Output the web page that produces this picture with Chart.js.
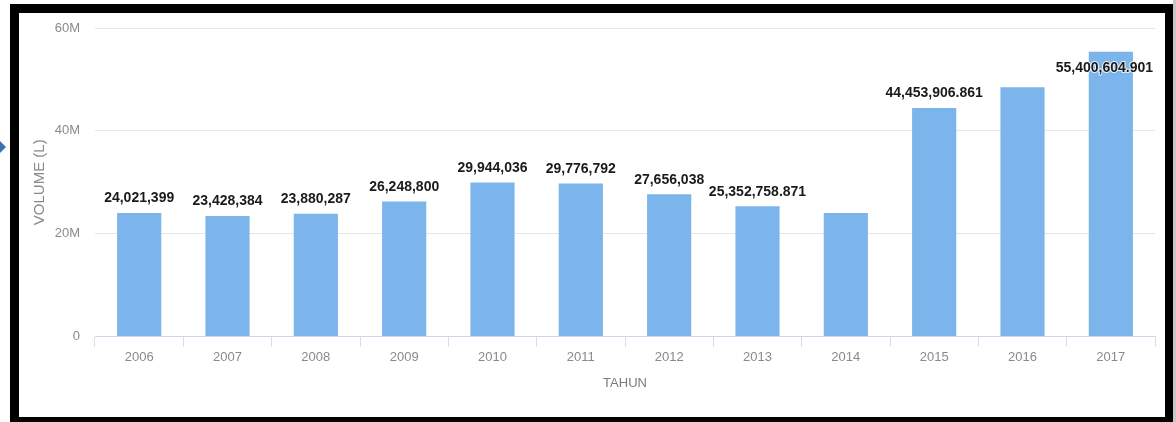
<!DOCTYPE html>
<html>
<head>
<meta charset="utf-8">
<script src="https://cdn.jsdelivr.net/npm/chart.js@4/dist/chart.umd.min.js"></script>
<style>
  html, body { margin: 0; padding: 0; background: #ffffff; overflow: hidden; }
  #wrap { position: relative; width: 1176px; height: 422px; overflow: hidden; }
  #c { position: absolute; left: 0; top: 0; }
  #frame { position: absolute; left: 10px; top: 4px; width: 1163px; height: 422px;
           border: 9px solid #000; border-right-width: 8px; box-sizing: border-box; pointer-events: none; }
  #strip { position: absolute; left: 1173px; top: 0; width: 3px; height: 422px; background: #c8c8c8; }
  #arrow { position: absolute; left: 0; top: 141px; width: 0; height: 0;
           border-top: 6px solid transparent; border-bottom: 6px solid transparent; border-left: 6px solid #3a72b0; }
</style>
</head>
<body>
<div id="wrap">
  <canvas id="c" width="1176" height="422"></canvas>
  <div id="strip"></div>
  <div id="frame"></div>
  <div id="arrow"></div>
</div>
<script>
// ---- data ----
const years = ['2006','2007','2008','2009','2010','2011','2012','2013','2014','2015','2016','2017'];
const volumes = [24021399, 23428384, 23880287, 26248800, 29944036, 29776792, 27656038, 25352758.871, 24000000, 44453906.861, 48500000, 55400604.901];
const valueLabels = ['24,021,399','23,428,384','23,880,287','26,248,800','29,944,036','29,776,792','27,656,038','25,352,758.871','','44,453,906.861','','55,400,604.901'];
const yTickLabels = ['0','20M','40M','60M'];

const FONT = '"Liberation Sans", Arial, sans-serif';

const dataLabelPlugin = {
  id: 'dataLabels',
  afterDatasetsDraw(chart) {
    const ctx = chart.ctx;
    const meta = chart.getDatasetMeta(0);
    const area = chart.chartArea;
    ctx.save();
    ctx.font = 'bold 14px ' + FONT;
    ctx.textAlign = 'center';
    ctx.textBaseline = 'middle';
    meta.data.forEach((el, i) => {
      const text = valueLabels[i];
      if (!text) return;
      const w = ctx.measureText(text).width;
      let x = el.x;
      let y = el.y - 14.5;
      if (y - 13 < area.top) y = el.y + 16;
      if (x + w / 2 + 2 > area.right) x = area.right - w / 2 - 2;
      ctx.lineWidth = 2;
      ctx.strokeStyle = 'rgba(255,255,255,0.8)';
      ctx.lineJoin = 'round';
      ctx.strokeText(text, x, y);
      ctx.fillStyle = '#1a1a1a';
      ctx.fillText(text, x, y);
    });
    ctx.restore();
  }
};

new Chart(document.getElementById('c'), {
  type: 'bar',
  data: {
    labels: years,
    datasets: [{
      data: volumes,
      backgroundColor: '#7cb5ec',
      borderWidth: 0,
      barPercentage: 0.5,
      categoryPercentage: 1.0
    }]
  },
  options: {
    responsive: false,
    animation: false,
    devicePixelRatio: 1,
    layout: { padding: { left: 0, right: 21, top: 28, bottom: 0 } },
    plugins: { legend: { display: false }, tooltip: { enabled: false } },
    scales: {
      x: {
        offset: true,
        grid: { display: true, drawOnChartArea: false, drawTicks: true, tickLength: 10, color: '#d8dce4', offset: true },
        border: { display: true, color: '#ccd6eb', width: 1 },
        ticks: { color: '#8a8a8a', font: { family: FONT, size: 13 }, padding: 3, maxRotation: 0, autoSkip: false },
        title: { display: true, text: 'TAHUN', color: '#7a7a7a', font: { family: FONT, size: 13 }, padding: { top: 0, bottom: 31 } },
        afterFit(scale) { scale.height = 85.5; }
      },
      y: {
        min: 0,
        max: 60000000,
        ticks: {
          stepSize: 20000000,
          color: '#8a8a8a',
          font: { family: FONT, size: 13 },
          padding: 15,
          callback: (v, i) => yTickLabels[i]
        },
        grid: { color: '#e6e6e6', drawTicks: false },
        border: { display: false },
        title: { display: true, text: 'VOLUME (L)', color: '#8a8a8a', font: { family: FONT, size: 15 }, padding: { top: 31, bottom: 0 } },
        afterFit(scale) { scale.width = 95; }
      }
    }
  },
  plugins: [dataLabelPlugin]
});
</script>
</body>
</html>
